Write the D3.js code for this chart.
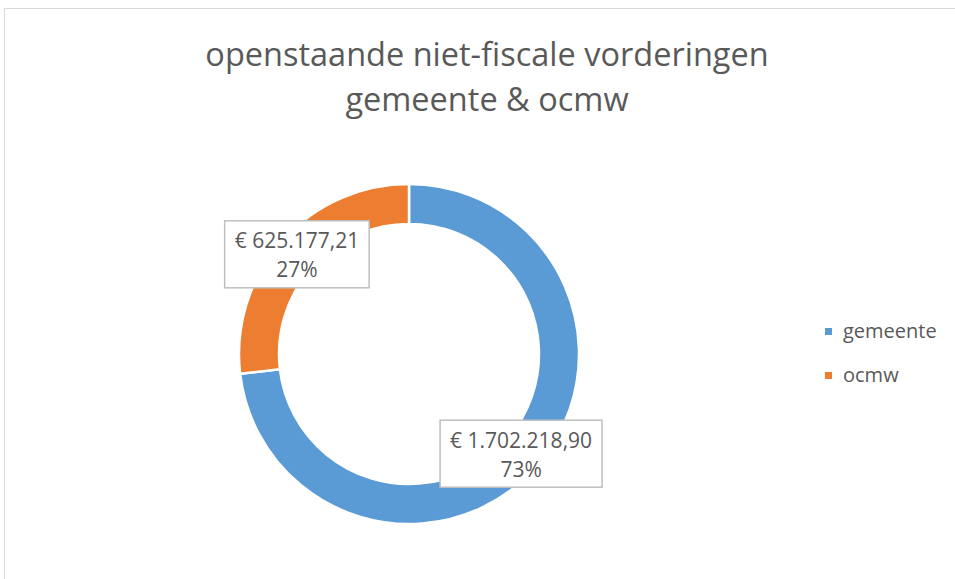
<!DOCTYPE html>
<html>
<head>
<meta charset="utf-8">
<script src="https://cdn.jsdelivr.net/npm/d3@7"></script>
<style>
  body { margin: 0; background: #fff; }
  text { font-family: "Open Sans", "Noto Sans", sans-serif; fill: #595959; }
</style>
</head>
<body>
<div id="chart"></div>
<script>
// categories and amounts (euro)
const categories = ["gemeente", "ocmw"];
const amounts = [1702218.90, 625177.21];
const colors = ["#5b9bd5", "#ed7d31"];
const titleLines = ["openstaande niet-fiscale vorderingen", "gemeente & ocmw"];

const width = 955;
const height = 579;
const cx = 409, cy = 354;
const outerR = 170, innerR = 130;

const svg = d3.select("#chart")
    .append("svg")
    .attr("width", width)
    .attr("height", height);

// chart area border (runs off the right and bottom)
svg.append("rect")
    .attr("x", 4.5)
    .attr("y", 8.5)
    .attr("width", 1200)
    .attr("height", 1200)
    .attr("fill", "none")
    .attr("stroke", "#d9d9d9");

// title
svg.selectAll("text.title")
    .data(titleLines)
    .enter()
    .append("text")
    .attr("class", "title")
    .attr("x", 487)
    .attr("y", (d, i) => 66 + i * 45)
    .attr("text-anchor", "middle")
    .attr("font-size", "32.5px")
    .text(d => d);

const total = d3.sum(amounts);
const data = categories.map((c, i) => ({ name: c, value: amounts[i], color: colors[i] }));

const pie = d3.pie()
    .value(d => d.value)
    .sort(null);

const arc = d3.arc()
    .innerRadius(innerR)
    .outerRadius(outerR);

const labelArc = d3.arc()
    .innerRadius(150)
    .outerRadius(150);

const g = svg.append("g").attr("transform", `translate(${cx},${cy})`);

const arcs = pie(data);

g.selectAll("path")
    .data(arcs)
    .enter()
    .append("path")
    .attr("d", arc)
    .attr("fill", d => d.data.color)
    .attr("stroke", "#fff")
    .attr("stroke-width", 2.5);

// data labels
const euro = v => "€ " + v.toFixed(2).replace(".", ",").replace(/\B(?=(\d{3})+(?!\d))/g, ".");
const pct = v => Math.round(v / total * 100) + "%";

const labels = g.selectAll("g.label")
    .data(arcs)
    .enter()
    .append("g")
    .attr("class", "label")
    .attr("transform", d => `translate(${labelArc.centroid(d)})`);

labels.each(function(d) {
    const lg = d3.select(this);
    const rect = lg.append("rect");
    const t1 = lg.append("text")
        .attr("text-anchor", "middle")
        .attr("y", -6)
        .attr("font-size", "21px")
        .text(euro(d.data.value));
    lg.append("text")
        .attr("text-anchor", "middle")
        .attr("y", 23)
        .attr("font-size", "21px")
        .text(pct(d.data.value));
    const w = t1.node().getComputedTextLength() + 20;
    rect.attr("x", -w / 2)
        .attr("y", -33.5)
        .attr("width", w)
        .attr("height", 67)
        .attr("fill", "#fff")
        .attr("stroke", "#bfbfbf")
        .attr("stroke-width", 1.5);
});

// legend
const legend = svg.selectAll("g.legend")
    .data(data)
    .enter()
    .append("g")
    .attr("class", "legend")
    .attr("transform", (d, i) => `translate(825,${328 + i * 44})`);

legend.append("rect")
    .attr("width", 7)
    .attr("height", 7)
    .attr("fill", d => d.color);

legend.append("text")
    .attr("x", 18)
    .attr("y", 10)
    .attr("font-size", "20px")
    .text(d => d.name);
</script>
</body>
</html>
